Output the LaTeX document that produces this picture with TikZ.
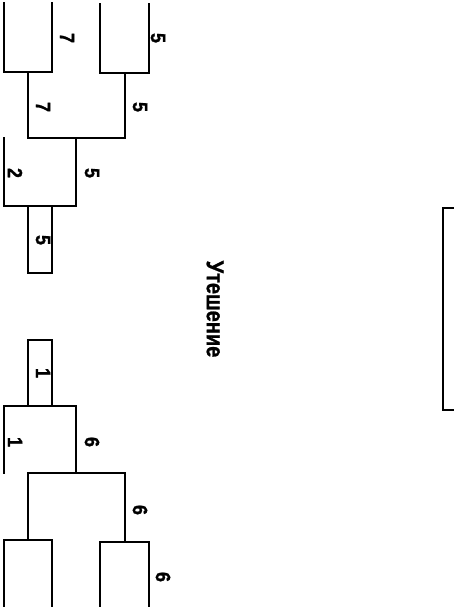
\documentclass[tikz,border=0pt]{standalone}
\usepackage{fontspec}
\usepackage{graphicx}
\setmainfont{Liberation Sans}[BoldFeatures={FakeBold=1.2}]
\begin{document}
\begin{tikzpicture}[x=1pt,y=-1pt,
  bline/.style={line width=1.9pt,line join=miter,line cap=rect},
  score/.style={font=\fontsize{18}{18}\selectfont\bfseries,rotate=-90,inner sep=0pt},
  title/.style={font=\fontsize{20}{20}\selectfont\bfseries,rotate=-90,inner sep=0pt}]
\useasboundingbox (0,0) rectangle (454,607);
% ---- upper bracket ----
\draw[bline] (4,3) -- (4,72) -- (52,72) -- (52,3);
\draw[bline] (100,4) -- (100,73) -- (149,73) -- (149,4);
\draw[bline] (28,72) -- (28,138) -- (125,138) -- (125,73);
\draw[bline] (4,138) -- (4,206) -- (76,206) -- (76,138);
\draw[bline] (28,206) -- (28,273) -- (52,273) -- (52,206);
\node[score] (u1) at (67,38) {\scalebox{1}[1.15]{7}};
\node[score] (u2) at (158,38) {\scalebox{1}[1.15]{5}};
\node[score] (u3) at (43,107) {\scalebox{1}[1.15]{7}};
\node[score] (u4) at (140,107) {\scalebox{1}[1.15]{5}};
\node[score] (u5) at (15,173) {\scalebox{1}[1.15]{2}};
\node[score] (u6) at (92,173) {\scalebox{1}[1.15]{5}};
\node[score] (u7) at (43,240) {\scalebox{1}[1.15]{5}};
% ---- title ----
\node[title] (t) at (215,309) {\scalebox{1}[1.2]{Утешение}};
% ---- right box ----
\draw[line width=2.6pt] (460,208) -- (443,208) -- (443,410) -- (460,410);
% ---- lower bracket ----
\draw[bline] (28,406) -- (28,340) -- (52,340) -- (52,406);
\draw[bline] (4,473) -- (4,406) -- (76,406) -- (76,473);
\draw[bline] (28,540) -- (28,473) -- (125,473) -- (125,542);
\draw[bline] (4,607) -- (4,540) -- (52,540) -- (52,607);
\draw[bline] (100,607) -- (100,542) -- (149,542) -- (149,607);
\node[score] (l1) at (43,373) {\scalebox{1}[1.15]{1}};
\node[score] (l2) at (15,442) {\scalebox{1}[1.15]{1}};
\node[score] (l3) at (92,442) {\scalebox{1}[1.15]{6}};
\node[score] (l4) at (140,510) {\scalebox{1}[1.15]{6}};
\node[score] (l5) at (163,577) {\scalebox{1}[1.15]{6}};
\end{tikzpicture}
\end{document}
